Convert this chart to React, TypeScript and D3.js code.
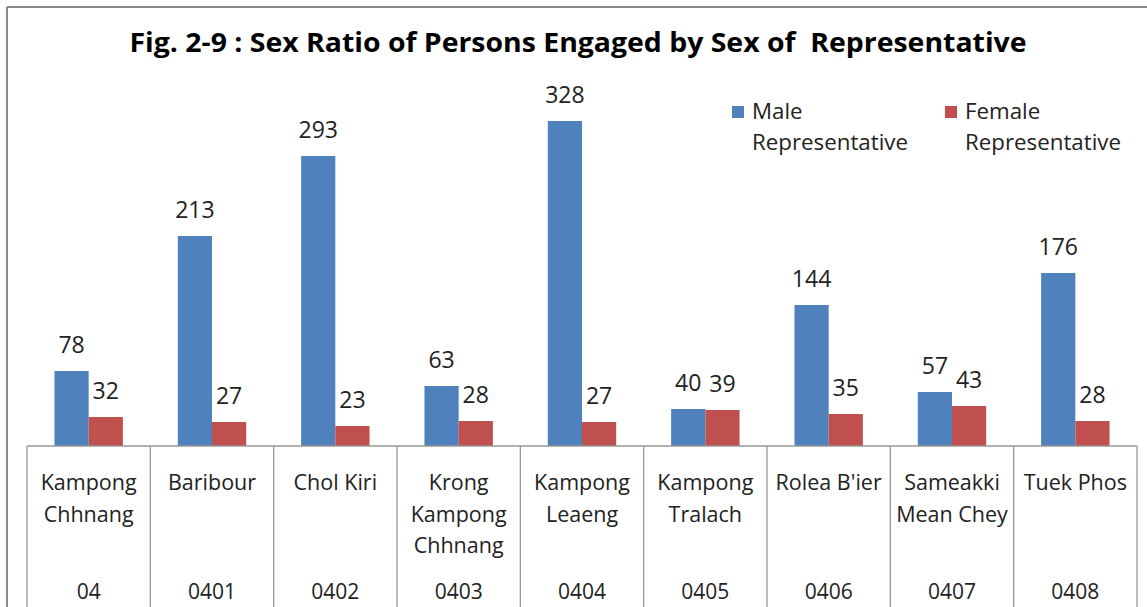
import React from "react";
import * as d3 from "d3";

const codes = ["04", "0401", "0402", "0403", "0404", "0405", "0406", "0407", "0408"];
const names = [
  ["Kampong", "Chhnang"],
  ["Baribour"],
  ["Chol Kiri"],
  ["Krong", "Kampong", "Chhnang"],
  ["Kampong", "Leaeng"],
  ["Kampong", "Tralach"],
  ["Rolea B'ier"],
  ["Sameakki", "Mean Chey"],
  ["Tuek Phos"],
];
const maleValues = [78, 213, 293, 63, 328, 40, 144, 57, 176];
const femaleValues = [32, 27, 23, 28, 27, 39, 35, 43, 28];
const seriesNames = ["Male", "Female"];
const seriesColors = ["#4F81BD", "#C0504D"];
const legendLabels = [["Male", "Representative"], ["Female", "Representative"]];
const title = "Fig. 2-9 : Sex Ratio of Persons Engaged by Sex of  Representative";

const W = 1147;
const H = 607;
const FONT = "'Open Sans', 'DejaVu Sans', sans-serif";

export default function App() {
  const baseY = 446;
  const x0 = d3.scaleBand<string>().domain(codes).range([27, 1137]).paddingInner(0).paddingOuter(0);
  const bw = x0.bandwidth();
  const x1 = d3.scaleBand<string>().domain(seriesNames).range([bw / 2 - 34.2, bw / 2 + 34.2]);
  const y = d3.scaleLinear().domain([0, 350]).range([449, 99]);
  const series = [maleValues, femaleValues];
  const gridLines = codes.map((c) => x0(c) as number).concat([1137]);

  return (
    <svg width={W} height={H} style={{ position: "absolute", left: 0, top: 0, background: "#fff" }}>
      <rect x={0} y={0} width={W} height={H} fill="#fff" />
      {/* outer chart border */}
      <line x1={7} y1={7} x2={W} y2={7} stroke="#8a8a8a" strokeWidth={2} />
      <line x1={7} y1={7} x2={7} y2={H} stroke="#8a8a8a" strokeWidth={2} />
      <text
        x={578}
        y={52}
        textAnchor="middle"
        fontFamily={FONT}
        fontWeight="bold"
        fontSize={26}
        fill="#000"
        textLength={897}
        lengthAdjust="spacingAndGlyphs"
        style={{ whiteSpace: "pre" }}
      >
        {title}
      </text>
      {/* legend */}
      {legendLabels.map((lines, i) => {
        const lx = [732, 945][i];
        return (
          <g key={"lg" + i}>
            <rect x={lx} y={106} width={12} height={12} fill={seriesColors[i]} />
            {lines.map((t, j) => (
              <text key={j} x={lx + 20} y={119 + j * 31} fontFamily={FONT} fontSize={22.3} fill="#222">
                {t}
              </text>
            ))}
          </g>
        );
      })}
      {/* bars */}
      {codes.map((c, ci) => (
        <g key={c} transform={`translate(${x0(c)},0)`}>
          {series.map((vals, si) => {
            const v = vals[ci];
            const bx = x1(seriesNames[si]) as number;
            const top = y(v);
            return (
              <g key={si}>
                <rect x={bx} y={top} width={x1.bandwidth()} height={baseY - top} fill={seriesColors[si]} />
                <text
                  x={bx + x1.bandwidth() / 2}
                  y={top - 18}
                  textAnchor="middle"
                  fontFamily={FONT}
                  fontSize={23}
                  fill="#222"
                >
                  {v}
                </text>
              </g>
            );
          })}
        </g>
      ))}
      {/* table */}
      <line x1={27} y1={baseY} x2={1137} y2={baseY} stroke="#999" strokeWidth={1.3} />
      {gridLines.map((gx, i) => (
        <line key={"v" + i} x1={gx} y1={baseY} x2={gx} y2={H} stroke="#999" strokeWidth={1.3} />
      ))}
      {codes.map((c, ci) => {
        const cx = (x0(c) as number) + bw / 2;
        return (
          <g key={"lab" + c}>
            {names[ci].map((t, j) => (
              <text key={j} x={cx} y={490 + j * 31.5} textAnchor="middle" fontFamily={FONT} fontSize={21.5} fill="#222">
                {t}
              </text>
            ))}
            <text x={cx} y={599} textAnchor="middle" fontFamily={FONT} fontSize={21} fill="#222">
              {c}
            </text>
          </g>
        );
      })}
    </svg>
  );
}
